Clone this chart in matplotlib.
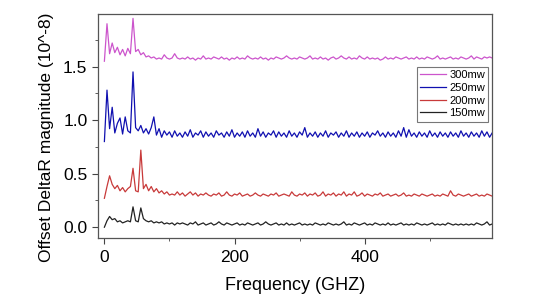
import numpy as np
import matplotlib.pyplot as plt
from matplotlib.ticker import MultipleLocator

plt.rcParams['font.family'] = ['Liberation Sans', 'DejaVu Sans']

# frequency axis (GHz), 4 GHz step
freq = np.arange(0, 600, 4)

# offset DeltaR magnitude (10^-8)
p300 = [1.55, 1.90, 1.62, 1.72, 1.63, 1.68, 1.61, 1.66, 1.60, 1.67,
        1.62, 1.95, 1.64, 1.66, 1.61, 1.63, 1.59, 1.60, 1.58, 1.59,
        1.57, 1.58, 1.57, 1.61, 1.58, 1.57, 1.58, 1.62, 1.58, 1.57,
        1.58, 1.57, 1.59, 1.57, 1.58, 1.56, 1.58, 1.57, 1.60, 1.57,
        1.58, 1.57, 1.59, 1.58, 1.57, 1.59, 1.57, 1.58, 1.56, 1.58,
        1.57, 1.59, 1.57, 1.58, 1.57, 1.60, 1.58, 1.57, 1.58, 1.57,
        1.59, 1.57, 1.58, 1.56, 1.58, 1.57, 1.59, 1.58, 1.57, 1.58,
        1.60, 1.58, 1.57, 1.58, 1.57, 1.59, 1.58, 1.57, 1.58, 1.60,
        1.57, 1.58, 1.57, 1.59, 1.57, 1.58, 1.56, 1.58, 1.59, 1.57,
        1.58, 1.60, 1.58, 1.57, 1.59, 1.57, 1.58, 1.57, 1.60, 1.58,
        1.57, 1.59, 1.57, 1.58, 1.57, 1.58, 1.56, 1.57, 1.59, 1.57,
        1.58, 1.57, 1.59, 1.58, 1.57, 1.58, 1.59, 1.57, 1.58, 1.57,
        1.59, 1.57, 1.58, 1.57, 1.59, 1.58, 1.57, 1.58, 1.60, 1.57,
        1.58, 1.57, 1.58, 1.59, 1.57, 1.58, 1.57, 1.59, 1.58, 1.57,
        1.58, 1.60, 1.57, 1.59, 1.58, 1.57, 1.59, 1.58, 1.59, 1.58]

p250 = [0.80, 1.28, 0.92, 1.12, 0.88, 0.97, 1.02, 0.87, 1.03, 0.90,
        0.88, 1.45, 0.93, 0.90, 0.95, 0.88, 0.92, 0.87, 0.93, 1.03,
        0.86, 0.92, 0.84, 0.90, 0.86, 0.89, 0.84, 0.90, 0.85, 0.88,
        0.84, 0.89, 0.85, 0.91, 0.84, 0.88, 0.86, 0.90, 0.84, 0.89,
        0.85, 0.88, 0.84, 0.90, 0.86, 0.88, 0.84, 0.89, 0.85, 0.91,
        0.84, 0.88, 0.85, 0.89, 0.84, 0.90, 0.85, 0.88, 0.84, 0.92,
        0.85, 0.89, 0.84, 0.88, 0.86, 0.90, 0.84, 0.89, 0.85, 0.88,
        0.84, 0.90, 0.85, 0.88, 0.84, 0.89, 0.86, 0.93, 0.84, 0.88,
        0.85, 0.89, 0.84, 0.88, 0.85, 0.90, 0.84, 0.88, 0.86, 0.89,
        0.84, 0.88, 0.85, 0.90, 0.84, 0.88, 0.85, 0.89, 0.84, 0.88,
        0.85, 0.89, 0.84, 0.88, 0.86, 0.90, 0.85, 0.88, 0.84, 0.89,
        0.85, 0.88, 0.84, 0.90, 0.85, 0.93, 0.84, 0.91, 0.85, 0.88,
        0.84, 0.89, 0.85, 0.88, 0.84, 0.90, 0.85, 0.88, 0.84, 0.89,
        0.85, 0.88, 0.84, 0.89, 0.85, 0.88, 0.84, 0.90, 0.85, 0.88,
        0.84, 0.89, 0.85, 0.88, 0.84, 0.90, 0.85, 0.89, 0.84, 0.88]

p200 = [0.27, 0.38, 0.48, 0.40, 0.36, 0.39, 0.34, 0.37, 0.33, 0.36,
        0.38, 0.55, 0.34, 0.33, 0.72, 0.36, 0.40, 0.34, 0.38, 0.33,
        0.36, 0.32, 0.34, 0.31, 0.33, 0.30, 0.31, 0.30, 0.33, 0.30,
        0.32, 0.29, 0.31, 0.33, 0.30, 0.32, 0.29, 0.31, 0.30, 0.32,
        0.30, 0.29, 0.31, 0.30, 0.32, 0.29, 0.30, 0.33, 0.30, 0.29,
        0.31, 0.30, 0.32, 0.29, 0.30, 0.31, 0.29, 0.30, 0.32, 0.30,
        0.29, 0.31, 0.30, 0.29, 0.31, 0.30, 0.32, 0.29, 0.30, 0.31,
        0.30, 0.29, 0.33, 0.30, 0.29, 0.31, 0.30, 0.32, 0.29, 0.31,
        0.30, 0.32, 0.29, 0.30, 0.33, 0.29, 0.31, 0.30, 0.32, 0.29,
        0.31, 0.30, 0.33, 0.29, 0.31, 0.30, 0.33, 0.29, 0.30, 0.32,
        0.29, 0.31, 0.30, 0.29, 0.31, 0.30, 0.32, 0.29, 0.30, 0.31,
        0.29, 0.30, 0.31, 0.29, 0.30, 0.32, 0.29, 0.30, 0.29, 0.31,
        0.30, 0.29, 0.31, 0.30, 0.29, 0.30, 0.31, 0.29, 0.30, 0.29,
        0.31, 0.30, 0.29, 0.34, 0.30, 0.29, 0.31, 0.30, 0.29, 0.30,
        0.31, 0.29, 0.30, 0.31, 0.29, 0.30, 0.29, 0.31, 0.30, 0.29]

p150 = [0.00, 0.06, 0.10, 0.07, 0.08, 0.05, 0.06, 0.04, 0.05, 0.06,
        0.05, 0.19, 0.06, 0.05, 0.18, 0.08, 0.06, 0.05, 0.06, 0.04,
        0.05, 0.04, 0.05, 0.03, 0.04, 0.03, 0.04, 0.02, 0.04, 0.03,
        0.04, 0.03, 0.02, 0.04, 0.03, 0.05, 0.02, 0.03, 0.04, 0.02,
        0.03, 0.04, 0.02, 0.03, 0.05, 0.03, 0.02, 0.04, 0.03, 0.02,
        0.03, 0.04, 0.02, 0.03, 0.02, 0.04, 0.03, 0.02, 0.03, 0.04,
        0.02, 0.03, 0.05, 0.03, 0.02, 0.03, 0.04, 0.02, 0.03, 0.02,
        0.04, 0.02, 0.03, 0.02, 0.03, 0.04, 0.02, 0.03, 0.02, 0.03,
        0.02, 0.04, 0.03, 0.02, 0.03, 0.02, 0.04, 0.03, 0.02, 0.03,
        0.02, 0.03, 0.05, 0.02, 0.03, 0.02, 0.04, 0.03, 0.02, 0.03,
        0.04, 0.02, 0.03, 0.02, 0.04, 0.03, 0.02, 0.03, 0.02, 0.04,
        0.02, 0.03, 0.02, 0.03, 0.04, 0.02, 0.03, 0.02, 0.03, 0.02,
        0.04, 0.03, 0.02, 0.03, 0.02, 0.03, 0.04, 0.02, 0.03, 0.02,
        0.03, 0.02, 0.04, 0.03, 0.02, 0.03, 0.02, 0.03, 0.02, 0.03,
        0.02, 0.03, 0.02, 0.04, 0.03, 0.02, 0.03, 0.05, 0.02, 0.03]

labels = ['300mw', '250mw', '200mw', '150mw']
colors = ['#cc55cc', '#1010b0', '#c83a3a', '#222222']

fig = plt.figure(figsize=(5.53, 3.0), dpi=100)
ax = fig.add_axes([0.177, 0.207, 0.713, 0.746])

for y, lab, c in zip([p300, p250, p200, p150], labels, colors):
    ax.plot(freq, y, color=c, lw=0.9, label=lab)

ax.set_xlim(-10, 596)
ax.set_ylim(-0.1, 1.99)
ax.xaxis.set_major_locator(MultipleLocator(200))
ax.xaxis.set_minor_locator(MultipleLocator(100))
ax.yaxis.set_major_locator(MultipleLocator(0.5))
ax.yaxis.set_minor_locator(MultipleLocator(0.25))
ax.tick_params(which='both', direction='out', labelsize=12.5, color='#444444')
ax.tick_params(which='major', length=4)
ax.tick_params(which='minor', length=2.5)
ax.tick_params(axis='x', which='major', pad=5)
for s in ax.spines.values():
    s.set_color('#555555')
    s.set_linewidth(0.9)

ax.set_xlabel('Frequency (GHZ)', fontsize=13, labelpad=8)
ax.set_ylabel('Offset DeltaR magnitude (10^-8)', fontsize=12.5)
ax.yaxis.set_label_coords(-0.112, 0.45)

leg = ax.legend(loc='upper right', bbox_to_anchor=(0.99, 0.765), fontsize=8,
                frameon=True, fancybox=False, edgecolor='#555555',
                handlelength=2.3, handletextpad=0.3, labelspacing=0.25,
                borderpad=0.3, borderaxespad=0)
leg.get_frame().set_linewidth(0.8)

fig.savefig('out.png', dpi=100)
